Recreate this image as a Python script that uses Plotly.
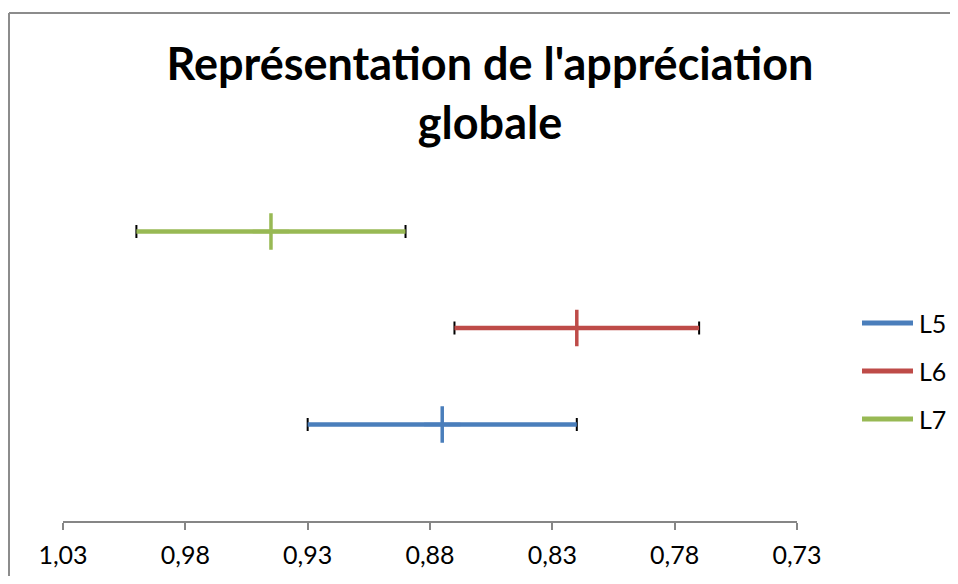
import plotly.graph_objects as go

# ---- data ----
series_names = ["L5", "L6", "L7"]
series_means = [0.875, 0.82, 0.945]
series_errors = [0.055, 0.05, 0.055]
series_rows = [1, 2, 3]
series_colors = ["#4A7EBB", "#BE4B48", "#98B954"]
x_tick_values = [1.03, 0.98, 0.93, 0.88, 0.83, 0.78, 0.73]
x_tick_labels = ["1,03", "0,98", "0,93", "0,88", "0,83", "0,78", "0,73"]
title_text = "Représentation de l'appréciation<br>globale"

FONT = "Lato"
OFF = 8  # page body margin
W, H = 958 - 2 * OFF, 584 - 2 * OFF
L, R, T = 63 - OFF, 958 - 797 - OFF, 135 - OFF
B = H - (521 - OFF)
pw, ph = W - L - R, H - T - B

def px_to_paper_x(px):
    return (px - OFF - L) / pw

def px_to_paper_y(py):
    return (H - B - (py - OFF)) / ph

fig = go.Figure()

# black caps (drawn first, thin)
for name, m, e, yv in zip(series_names, series_means, series_errors, series_rows):
    fig.add_trace(go.Scatter(
        x=[m], y=[yv], mode="markers", marker=dict(size=1, color="rgba(0,0,0,0)"),
        error_x=dict(type="data", array=[e], symmetric=True, color="black",
                     thickness=2, width=6.5),
        showlegend=False, hoverinfo="skip"))

# coloured error bars + cross markers
for name, m, e, yv, c in zip(series_names, series_means, series_errors, series_rows, series_colors):
    fig.add_trace(go.Scatter(
        x=[m], y=[yv], mode="markers", name=name,
        marker=dict(symbol="cross-thin", size=26, color=c, line=dict(color=c, width=3.5)),
        error_x=dict(type="data", array=[e], symmetric=True, color=c,
                     thickness=4.5, width=0),
        showlegend=False))

fig.update_xaxes(
    range=[1.03, 0.73], autorange=False,
    tickmode="array", tickvals=x_tick_values, ticktext=x_tick_labels,
    showgrid=False, zeroline=False,
    showline=True, linecolor="#868686", linewidth=2,
    ticks="outside", ticklen=7, tickwidth=2, tickcolor="#868686",
    ticklabelstandoff=4,
    tickfont=dict(family=FONT, size=25, color="black"),
)
fig.update_yaxes(range=[0, 4], autorange=False, visible=False, showgrid=False, zeroline=False)

shapes = []
# chart frame: only the left and top edges are visible in the window
frame = dict(color="#8C8C8C", width=2)
shapes.append(dict(type="line", xref="paper", yref="paper",
                   x0=px_to_paper_x(9), x1=px_to_paper_x(9),
                   y0=px_to_paper_y(600), y1=px_to_paper_y(13), line=frame, layer="below"))
shapes.append(dict(type="line", xref="paper", yref="paper",
                   x0=px_to_paper_x(9), x1=px_to_paper_x(980),
                   y0=px_to_paper_y(13), y1=px_to_paper_y(13), line=frame, layer="below"))

annotations = []
legend_y = [323, 371, 419]
for name, c, ly in zip(series_names, series_colors, legend_y):
    shapes.append(dict(type="line", xref="paper", yref="paper",
                       x0=px_to_paper_x(862), x1=px_to_paper_x(913),
                       y0=px_to_paper_y(ly), y1=px_to_paper_y(ly),
                       line=dict(color=c, width=5)))
    annotations.append(dict(xref="paper", yref="paper", x=px_to_paper_x(917), y=px_to_paper_y(ly),
                            xanchor="left", yanchor="middle", showarrow=False, text=name,
                            font=dict(family=FONT, size=25, color="black")))

fig.update_layout(
    width=W, height=H,
    margin=dict(l=L, r=R, t=T, b=B, autoexpand=False),
    paper_bgcolor="white", plot_bgcolor="white",
    showlegend=False,
    title=dict(text=title_text, x=(490 - OFF) / W, xanchor="center", xref="container",
               y=1 - 72 / H, yref="container", yanchor="middle",
               font=dict(family=FONT, size=45, color="black", weight="bold")),
    shapes=shapes, annotations=annotations,
)

fig.write_html("out.html")
